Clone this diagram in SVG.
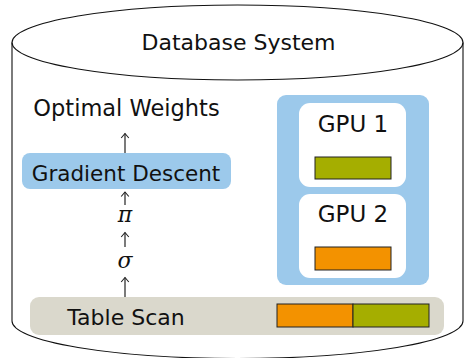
<svg xmlns="http://www.w3.org/2000/svg" width="464" height="358" viewBox="0 0 464 358">
<defs>
<style>
.t{font-family:"DejaVu Sans","Liberation Sans",sans-serif;font-size:22px;fill:#111;text-anchor:middle}
.big{font-size:23px}
.m{font-family:"DejaVu Serif","Liberation Serif",serif;font-style:italic;font-size:22px;fill:#111;text-anchor:middle}
.outline{fill:none;stroke:#111;stroke-width:1.1}
.blue{fill:#9CC9EB}
.white{fill:#fff}
.bar{stroke:#222;stroke-width:1}
.arr{fill:none;stroke:#222;stroke-width:1.2;marker-end:url(#head)}
</style>
<marker id="head" viewBox="-6 -5 8 10" refX="0" refY="0" markerWidth="8" markerHeight="10" markerUnits="userSpaceOnUse" orient="auto">
<path d="M-4.5,-3.8 L0,0 L-4.5,3.8" fill="none" stroke="#222" stroke-width="1.1"/>
</marker>
</defs>
<g id="database">
<path class="outline" d="M12,42.5 V321 A225.5,37.5 0 0 0 463,321 V42.5"/>
<ellipse class="outline" cx="237.5" cy="42.5" rx="225.5" ry="37.5" fill="#fff"/>
<text class="t" x="238.5" y="49.5">Database System</text>
</g>
<g id="table-scan">
<rect x="30" y="297" width="414" height="38" rx="9" fill="#DAD8CC"/>
<text class="t" x="126" y="325">Table Scan</text>
<rect class="bar" x="277" y="304" width="76" height="23" fill="#F39200"/>
<rect class="bar" x="353" y="304" width="76" height="23" fill="#A5AE00"/>
</g>
<g id="sigma"><text class="m" x="125" y="268">σ</text></g>
<g id="pi"><text class="m" x="125" y="222">π</text></g>
<g id="gradient-descent">
<rect class="blue" x="22" y="153" width="209" height="36" rx="8"/>
<text class="t" x="126" y="181" style="font-size:21.5px">Gradient Descent</text>
</g>
<g id="optimal-weights"><text class="t" x="126.5" y="116" style="font-size:22.5px">Optimal Weights</text></g>
<g id="gpus">
<rect class="blue" x="277" y="95" width="152" height="190" rx="9"/>
<g id="gpu1">
<rect class="white" x="299" y="103" width="107" height="84" rx="11"/>
<text class="t big" x="353" y="132">GPU 1</text>
<rect class="bar" x="315" y="157" width="76" height="22" fill="#A5AE00"/>
</g>
<g id="gpu2">
<rect class="white" x="299" y="194" width="107" height="84" rx="11"/>
<text class="t big" x="353" y="222">GPU 2</text>
<rect class="bar" x="315" y="247" width="76" height="23" fill="#F39200"/>
</g>
</g>
<g id="connectors">
<path class="arr" d="M125,153 V133.5"/>
<path class="arr" d="M125,205 V192"/>
<path class="arr" d="M125,247 V232.5"/>
<path class="arr" d="M125,297 V277.5"/>
</g>
</svg>
